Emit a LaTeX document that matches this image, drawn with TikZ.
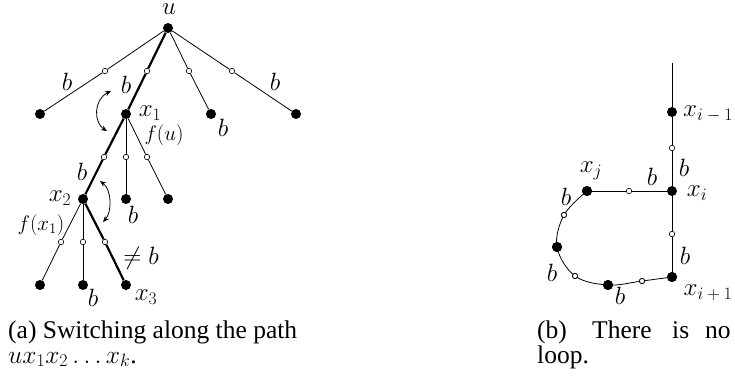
\RequirePackage{fix-cm}
\documentclass[tikz,border=0pt]{standalone}
\usepackage[no-math]{fontspec}
\setmainfont{Liberation Serif}
\usetikzlibrary{arrows.meta}
\newcommand{\smin}{\mskip4mu{-}\mskip4mu}
\newcommand{\spls}{\mskip4mu{+}\mskip4mu}
\begin{document}
\begin{tikzpicture}[x=1pt,y=-1pt,
  vtx/.style={circle,fill=black,inner sep=0pt,minimum size=10pt},
  mid/.style={circle,draw=black,fill=white,line width=0.6pt,inner sep=0pt,minimum size=5.5pt},
  lbl/.style={inner sep=0pt,font=\fontsize{25}{29}\selectfont},
  flbl/.style={inner sep=0pt,font=\fontsize{21}{24}\selectfont},
  captext/.style={inner sep=0pt,anchor=base west,font=\fontsize{25.5}{29}\selectfont},
  tedge/.style={line width=0.8pt},
  walk/.style={line width=2.2pt},
  switcharrow/.style={line width=0.8pt,{Stealth[length=6pt,width=5pt]}-{Stealth[length=6pt,width=5pt]}}
]
\useasboundingbox (0,0) rectangle (735,382);

% ---------- (a) the tree ----------
\node[vtx] (u)  at (168,28) {};
\node[vtx] (l1) at (40,114) {};
\node[vtx] (x1) at (126,114) {};
\node[vtx] (l2) at (211,114) {};
\node[vtx] (l3) at (296,114) {};
\node[vtx] (x2) at (83,199) {};
\node[vtx] (m1) at (126,199) {};
\node[vtx] (m2) at (168,199) {};
\node[vtx] (n1) at (40,285) {};
\node[vtx] (n2) at (83,285) {};
\node[vtx] (x3) at (126,285) {};

\node[mid] (a1) at (105,71) {};
\node[mid] (a2) at (147,71) {};
\node[mid] (a3) at (189,71) {};
\node[mid] (a4) at (232,71) {};
\node[mid] (b1) at (104,157) {};
\node[mid] (b2) at (126,157) {};
\node[mid] (b3) at (147,157) {};
\node[mid] (c1) at (61,242) {};
\node[mid] (c2) at (83,242) {};
\node[mid] (c3) at (105,242) {};

\draw[tedge] (u) -- (a1) -- (l1);
\draw[tedge] (u) -- (a3) -- (l2);
\draw[tedge] (u) -- (a4) -- (l3);
\draw[tedge] (x1) -- (b2) -- (m1);
\draw[tedge] (x1) -- (b3) -- (m2);
\draw[tedge] (x2) -- (c1) -- (n1);
\draw[tedge] (x2) -- (c2) -- (n2);
\draw[walk] (u) -- (a2) -- (x1) -- (b1) -- (x2) -- (c3) -- (x3);

\node[lbl] (lu) at (169,9) {$u$};
\node[lbl] (lb1) at (67,82) {$b$};
\node[lbl] (lb2) at (126,85) {$b$};
\node[lbl] (lx1) at (150,113) {$x_1$};
\node[lbl] (lb3) at (223,128) {$b$};
\node[lbl] (lb4) at (275,82) {$b$};
\node[flbl] (lfu) at (164,135) {$f(u)$};
\node[lbl] (lb5) at (82,172) {$b$};
\node[lbl] (lx2) at (60,198) {$x_2$};
\node[lbl] (lb6) at (133,215) {$b$};
\node[flbl] (lfx) at (41,225) {$f(x_1)$};
\node[lbl] (lnb) at (141,258) {$\neq b$};
\node[lbl] (lb7) at (93,298) {$b$};
\node[lbl] (lx3) at (146,297) {$x_3$};

\coordinate (s1) at (111,91);
\coordinate (e1) at (107,131);
\coordinate (s2) at (100,181);
\coordinate (e2) at (103,222);
\draw[switcharrow] (s1) .. controls (93,100) and (94,123) .. (e1);
\draw[switcharrow] (s2) .. controls (112,190) and (112,212) .. (e2);

\node[captext] (capa1) at (8,338) {(a) Switching along the path};
\node[captext] (capa2) at (8,363) {$ux_1x_2\ldots x_k$.};

% ---------- (b) no loop ----------
\coordinate (top) at (672,63);
\node[vtx] (xim) at (672,112) {};
\node[mid] (w1) at (672,148) {};
\node[vtx] (xi) at (672,191) {};
\node[mid] (w2) at (672,234) {};
\node[vtx] (xip) at (672,277) {};
\node[vtx] (xj) at (587,191) {};
\node[mid] (w3) at (629,191) {};
\node[mid] (wa) at (564,215) {};
\node[vtx] (ba) at (557,247) {};
\node[mid] (wb) at (575,276) {};
\node[vtx] (bb) at (608,285) {};
\node[mid] (wc) at (642,281) {};

\draw[tedge] (top) -- (xim) -- (w1) -- (xi) -- (w2) -- (xip);
\draw[tedge] (xj) -- (w3) -- (xi);
\draw[tedge] plot[smooth,tension=0.6] coordinates {(xj.center) (wa.center) (ba.center) (wb.center) (bb.center) (wc.center) (xip.center)};
% redraw the dots over the curve
\foreach \n in {wa,wb,wc}{\fill[white] (\n) circle (2.4pt); \draw[line width=0.6pt] (\n) circle (2.5pt);}
\foreach \n in {xj,ba,bb,xip}{\fill (\n) circle (5pt);}

\node[lbl] (lxim) at (708,114) {$x_{i\smin1}$};
\node[lbl] (lbr1) at (684,168) {$b$};
\node[lbl] (lxi) at (697,193) {$x_i$};
\node[lbl] (lbh) at (652,177) {$b$};
\node[lbl] (lxj) at (591,171) {$x_j$};
\node[lbl] (lbc1) at (566,197) {$b$};
\node[lbl] (lbr2) at (685,256) {$b$};
\node[lbl] (lbc2) at (552,273) {$b$};
\node[lbl] (lbc3) at (620,296) {$b$};
\node[lbl] (lxip) at (708,293) {$x_{i\spls1}$};

\node[captext] (capb1) at (537,338) {(b)};
\node[captext] (capb2) at (592,338) {There};
\node[captext] (capb3) at (672,338) {is};
\node[captext] (capb4) at (705,338) {no};
\node[captext] (capb5) at (537,363) {loop.};
\end{tikzpicture}
\end{document}
